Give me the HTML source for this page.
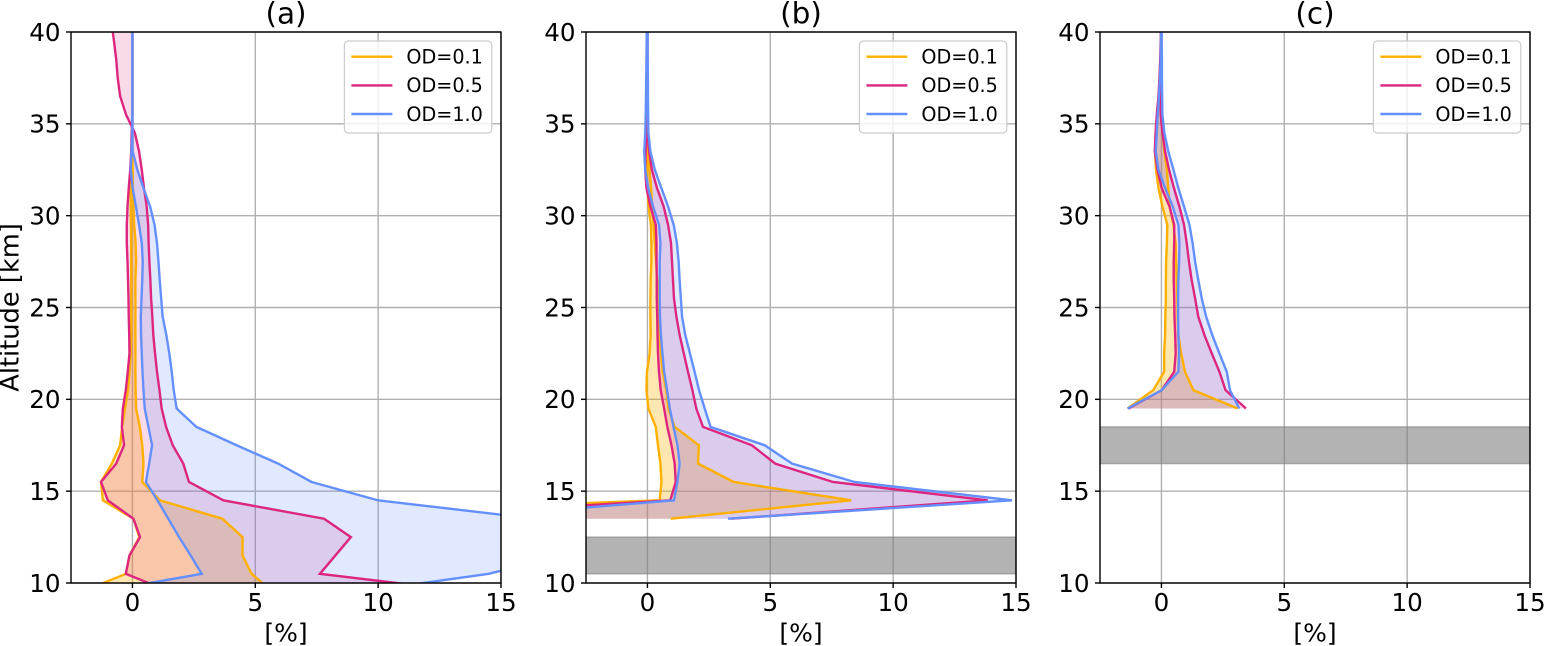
<!DOCTYPE html>
<html lang="en">
<head>
<meta charset="utf-8">
<title>Altitude profiles</title>
<style>
html,body{margin:0;padding:0;background:#fff;width:1544px;height:646px;overflow:hidden}
svg{display:block}
text{font-family:"DejaVu Sans","Liberation Sans",sans-serif;fill:#000}
</style>
</head>
<body>
<svg id="fig" xmlns="http://www.w3.org/2000/svg" width="1544" height="646" viewBox="0 0 1544 646"></svg>
<script>
// ---------- Data ----------
const panelTitles = ['(a)', '(b)', '(c)'];
const odLabels = ['OD=0.1', 'OD=0.5', 'OD=1.0'];
const xTickValues = [0, 5, 10, 15];
const yTickValues = [10, 15, 20, 25, 30, 35, 40];
const xLimits = [-2.5, 15];
const yLimits = [10, 40];
const obstructedBandB = [10.5, 12.5];
const obstructedBandC = [16.5, 18.5];

const altitudesA = [9.5,10.5,11.5,12.5,13.5,14.5,15.5,16.5,17.5,18.5,19.5,20.5,21.5,22.5,23.5,24.5,25.5,26.5,27.5,28.5,29.5,30.5,31.5,32.5,33.5,34.5,35.5,36.5,37.5,38.5,39.5,40.5];
const altitudesB = [13.5,14.5,15.5,16.5,17.5,18.5,19.5,20.5,21.5,22.5,23.5,24.5,25.5,26.5,27.5,28.5,29.5,30.5,31.5,32.5,33.5,34.5,35.5,36.5,37.5,38.5,39.5,40.5];
const altitudesC = [19.5,20.5,21.5,22.5,23.5,24.5,25.5,26.5,27.5,28.5,29.5,30.5,31.5,32.5,33.5,34.5,35.5,36.5,37.5,38.5,39.5,40.5];

const aOd01Low  = [-2.09,-.27,-.12,.28,.04,-1.2,-1.28,-.84,-.5,-.42,-.3,-.18,-.12,-.07,-.05,-.05,-.05,-.05,-.05,-.05,-.06,-.07,-.07,-.02,0,0,0,0,0,0,0,0];
const aOd01High = [5.71,4.85,4.48,4.48,3.66,1.12,.4,.45,.4,.3,.15,.13,.12,.12,.12,.12,.12,.12,.15,.13,.07,.04,.02,.01,0,0,0,0,0,0,0,0];
const aOd05Low  = [1.57,-.27,-.12,.31,.04,-1,-1.28,-.66,-.34,-.43,-.39,-.27,-.19,-.12,-.13,-.15,-.16,-.18,-.2,-.23,-.23,-.2,-.15,-.09,-.05,-.03,0,0,0,0,0,0];
const aOd05High = [13.87,7.63,8.26,8.89,7.8,3.7,2.3,2.07,1.64,1.37,1.19,1.1,1,.92,.85,.81,.76,.73,.69,.66,.64,.58,.47,.38,.27,.1,-.26,-.5,-.6,-.66,-.75,-.85];
const aOd10Low  = [-1.42,2.82,2.37,1.9,1.46,1.02,.55,.68,.8,.65,.5,.45,.41,.38,.35,.34,.37,.4,.42,.38,.27,.14,.01,-.07,-.04,0,0,0,0,0,0,0];
const aOd10High = [9.16,14.5,17.5,18,16.4,10,7.29,5.93,4.24,2.6,1.8,1.68,1.6,1.5,1.38,1.23,1.17,1.11,1.06,1,.9,.72,.45,.2,.01,0,0,0,0,0,0,0];

const bOd01Low  = [-20,.5,.57,.53,.43,.34,.04,-.04,-.02,.09,.13,.12,.12,.13,.16,.16,.14,.05,0,-.03,-.03,-.02,0,0,0,0,0,0];
const bOd01High = [.95,8.29,3.51,2.06,2.09,1.11,.85,.77,.62,.55,.5,.47,.45,.4,.35,.3,.25,.2,.15,.08,.03,.01,0,0,0,0,0,0];
const bOd05Low  = [-11.8,.93,1.15,1.11,.98,.81,.68,.54,.47,.43,.41,.4,.38,.38,.37,.37,.34,.12,-.04,-.09,-.07,-.04,-.03,-.03,-.03,-.02,-.01,0];
const bOd05High = [3.41,13.85,7.55,5.2,4.25,2.26,1.99,1.83,1.65,1.48,1.31,1.18,1.08,1.04,1,.96,.84,.66,.39,.18,.07,.01,0,0,0,0,0,0];
const bOd10Low  = [-8,1.08,1.22,1.31,1.22,1.06,.91,.8,.68,.61,.55,.51,.5,.5,.5,.53,.47,.23,.03,-.09,-.13,-.09,-.07,-.06,-.05,-.04,-.03,-.03];
const bOd10High = [3.28,14.84,8.43,5.89,4.77,2.57,2.33,2.1,1.92,1.73,1.54,1.41,1.36,1.31,1.27,1.2,1.07,.84,.57,.3,.12,.04,.03,.02,.02,.01,.01,.01];

const cOd01Low  = [-1.38,-.33,.11,.11,.15,.16,.18,.18,.19,.22,.24,.04,-.12,-.22,-.26,-.2,-.15,-.1,-.06,-.03,-.01,0];
const cOd01High = [3.1,1.3,.96,.8,.69,.66,.65,.62,.6,.58,.49,.33,.28,.22,.12,.04,.01,0,0,0,0,0];
const cOd05Low  = [-1.34,.01,.52,.58,.56,.53,.52,.5,.5,.52,.52,.33,.01,-.16,-.27,-.24,-.19,-.12,-.08,-.05,-.03,-.02];
const cOd05High = [3.44,2.61,2.36,2.05,1.75,1.5,1.37,1.23,1.12,1.03,.92,.73,.51,.31,.15,.04,-.03,-.02,-.01,0,0,0];
const cOd10Low  = [-1.38,.01,.69,.72,.69,.68,.68,.69,.72,.73,.69,.46,.15,-.12,-.23,-.19,-.15,-.1,-.06,-.03,-.02,-.01];
const cOd10High = [3.17,2.79,2.66,2.36,2.07,1.82,1.64,1.5,1.37,1.27,1.14,.92,.69,.49,.28,.12,.04,.03,.02,.02,.01,.01];

// ---------- Drawing ----------
const NS = 'http://www.w3.org/2000/svg';
const fig = document.getElementById('fig');
const axTop = 32, axBottom = 583, axWidth = 430;
const panelLefts = [71, 586, 1100];
const odColors = ['#FFB000', '#DC267F', '#648FFF'];
const odFillAlpha = [0.3, 0.17, 0.2];
const odKeys = ['od01', 'od05', 'od10'];
const panelKeys = ['a', 'b', 'c'];
const panelData = [
  { alt: altitudesA, series: [[aOd01Low, aOd01High], [aOd05Low, aOd05High], [aOd10Low, aOd10High]], band: null },
  { alt: altitudesB, series: [[bOd01Low, bOd01High], [bOd05Low, bOd05High], [bOd10Low, bOd10High]], band: obstructedBandB },
  { alt: altitudesC, series: [[cOd01Low, cOd01High], [cOd05Low, cOd05High], [cOd10Low, cOd10High]], band: obstructedBandC }
];

function make(tag, attrs, parent) {
  const n = document.createElementNS(NS, tag);
  for (const k in attrs) n.setAttribute(k, attrs[k]);
  parent.appendChild(n);
  return n;
}
function pts(xs, ys) { return xs.map((v, i) => v.toFixed(2) + ',' + ys[i].toFixed(2)).join(' '); }

const defs = make('defs', {}, fig);

panelLefts.forEach((left, p) => {
  const key = panelKeys[p];
  const data = panelData[p];
  const xScale = v => left + (v - xLimits[0]) / (xLimits[1] - xLimits[0]) * axWidth;
  const yScale = v => axBottom - (v - yLimits[0]) / (yLimits[1] - yLimits[0]) * (axBottom - axTop);

  const clip = make('clipPath', { id: 'clip-' + key }, defs);
  make('rect', { x: left, y: axTop, width: axWidth, height: axBottom - axTop }, clip);

  const panel = make('g', {}, fig);
  
  

  // grid
  xTickValues.forEach(t => {
    const g = make('line', { x1: xScale(t), x2: xScale(t), y1: axTop, y2: axBottom, stroke: '#b0b0b0', 'stroke-width': 1.4 }, panel);
    
    
  });
  yTickValues.forEach(t => {
    const g = make('line', { x1: left, x2: left + axWidth, y1: yScale(t), y2: yScale(t), stroke: '#b0b0b0', 'stroke-width': 1.4 }, panel);
    
    
  });

  // series: all shaded ranges first, then every line on top of them
  const plot = make('g', { 'clip-path': 'url(#clip-' + key + ')' }, panel);
  
  

  const ys = data.alt.map(yScale);

  data.series.forEach((pair, s) => {
    const loX = pair[0].map(xScale);
    const hiX = pair[1].map(xScale);
    const area = make('polygon', {
      points: pts(loX, ys) + ' ' + pts(hiX.slice().reverse(), ys.slice().reverse()),
      fill: odColors[s], 'fill-opacity': odFillAlpha[s], stroke: 'none'
    }, plot);
    
    
  });

  data.series.forEach((pair, s) => {
    pair.forEach((vals, e) => {
      const line = make('polyline', {
        points: pts(vals.map(xScale), ys), fill: 'none', stroke: odColors[s], 'stroke-width': 2.4, 'stroke-linejoin': 'miter'
      }, plot);
      
      
    });
  });

  // obstructed band
  if (data.band) {
    const y1 = yScale(data.band[1]), y0 = yScale(data.band[0]);
    const b = make('rect', {
      x: left, y: y1, width: axWidth, height: y0 - y1,
      fill: '#808080', 'fill-opacity': 0.6, stroke: '#808080', 'stroke-opacity': 0.6, 'stroke-width': 1.4
    }, plot);
    
    
  }

  // ticks and tick labels
  xTickValues.forEach(t => {
    const x = xScale(t);
    const tk = make('line', { x1: x, x2: x, y1: axBottom, y2: axBottom + 5, stroke: '#000', 'stroke-width': 1.4 }, panel);
    
    
    const lb = make('text', { x: x, y: 611, 'text-anchor': 'middle', 'font-size': 24.6 }, panel);
    lb.textContent = String(t);
    
    
  });
  yTickValues.forEach(t => {
    const y = yScale(t);
    const tk = make('line', { x1: left - 5, x2: left, y1: y, y2: y, stroke: '#000', 'stroke-width': 1.4 }, panel);
    
    
    const lb = make('text', { x: left - 10.5, y: y + 8.8, 'text-anchor': 'end', 'font-size': 24.6 }, panel);
    lb.textContent = String(t);
    
    
  });

  // spines
  const frame = make('rect', { x: left, y: axTop, width: axWidth, height: axBottom - axTop, fill: 'none', stroke: '#000', 'stroke-width': 1.4 }, panel);
  
  

  // title and x label
  const title = make('text', { x: left + axWidth / 2, y: 23.3, 'text-anchor': 'middle', 'font-size': 29.5 }, panel);
  title.textContent = panelTitles[p];
  
  
  const xl = make('text', { x: left + axWidth / 2, y: 641.5, 'text-anchor': 'middle', 'font-size': 25 }, panel);
  xl.textContent = '[%]';
  
  

  // legend
  const legend = make('g', {}, panel);
  
  
  const lx = left + 273.4;
  const box = make('rect', { x: lx, y: 41, width: 147.4, height: 92, rx: 4, ry: 4, fill: '#fff', 'fill-opacity': 0.8, stroke: '#ccc', 'stroke-width': 1.2 }, legend);
  
  
  const rowY = [56.7, 85.4, 114];
  odLabels.forEach((lab, s) => {
    const h = make('line', { x1: lx + 7, x2: lx + 48, y1: rowY[s], y2: rowY[s], stroke: odColors[s], 'stroke-width': 2.4 }, legend);
    
    
    const tx = make('text', { x: lx + 62, y: rowY[s] + 6.8, 'font-size': 19.2 }, legend);
    tx.textContent = lab;
    
    
  });
});

// y axis title
const yTitle = make('text', { x: 0, y: 0, transform: 'translate(18.5,307.5) rotate(-90)', 'text-anchor': 'middle', 'font-size': 25.7 }, fig);
yTitle.textContent = 'Altitude [km]';


</script>
</body>
</html>
